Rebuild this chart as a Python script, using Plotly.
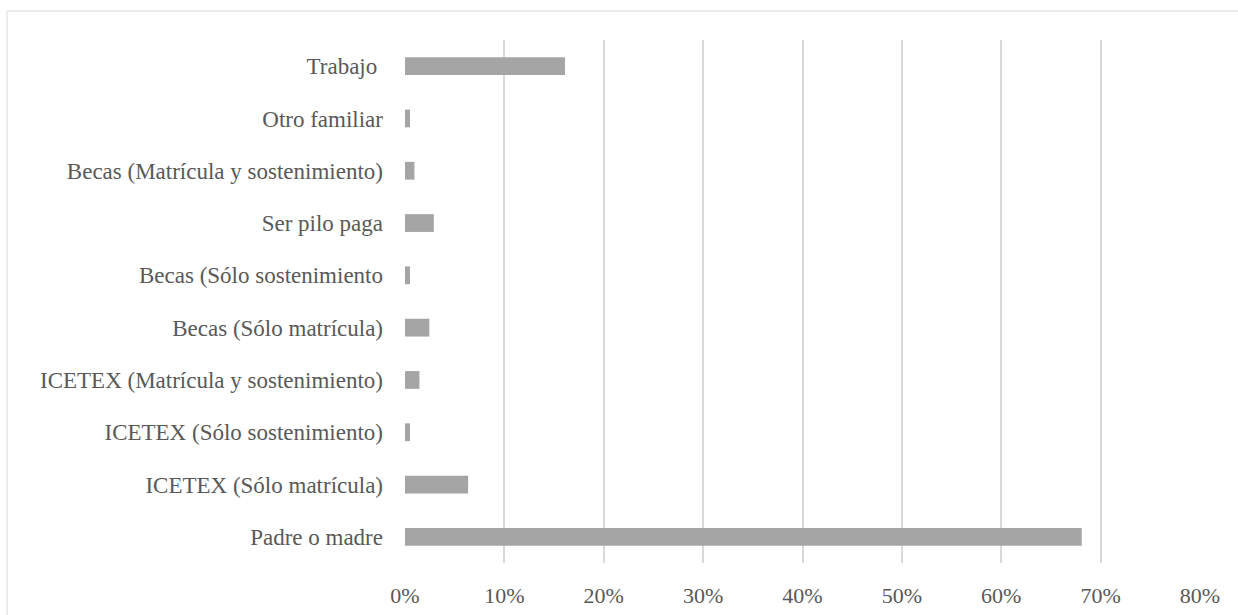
import plotly.graph_objects as go

# Fuentes de financiación (porcentaje de estudiantes)
categorias = [
    "Trabajo\u00a0",
    "Otro familiar",
    "Becas (Matrícula y sostenimiento)",
    "Ser pilo paga",
    "Becas (Sólo sostenimiento",
    "Becas (Sólo matrícula)",
    "ICETEX (Matrícula y sostenimiento)",
    "ICETEX (Sólo sostenimiento)",
    "ICETEX (Sólo matrícula)",
    "Padre o madre",
]
porcentajes = [16.1, 0.5, 0.95, 2.9, 0.5, 2.45, 1.45, 0.5, 6.35, 68.1]
ticks_x = [0, 10, 20, 30, 40, 50, 60, 70, 80]

W, H = 1238, 615
L, R, T, B = 405, 38, 40, 52
pw, ph = W - L - R, H - T - B

fig = go.Figure(
    go.Bar(
        x=porcentajes,
        y=categorias,
        orientation="h",
        marker=dict(color="#A5A5A5", line=dict(width=0)),
        width=0.34,
        hoverinfo="skip",
    )
)

font_y = dict(family="Liberation Serif", size=23, color="#595959")
font_x = dict(family="Liberation Serif", size=22, color="#595959")

fig.update_layout(
    width=W,
    height=H,
    margin=dict(l=L, r=R, t=T, b=B, pad=0, autoexpand=False),
    paper_bgcolor="white",
    plot_bgcolor="white",
    showlegend=False,
    font=font_y,
    xaxis=dict(
        range=[0, 80],
        tickvals=ticks_x,
        ticktext=[f"{v}%" for v in ticks_x],
        showgrid=True,
        gridcolor="#D9D9D9",
        gridwidth=1.5,
        zeroline=False,
        showline=False,
        ticks="",
        ticklabelstandoff=17,
        tickfont=font_x,
        automargin=False,
        fixedrange=True,
    ),
    yaxis=dict(
        autorange="reversed",
        showgrid=False,
        zeroline=False,
        showline=False,
        ticks="",
        ticklabelstandoff=21,
        tickfont=font_y,
        automargin=False,
        fixedrange=True,
    ),
    shapes=[
        dict(
            type="rect",
            xref="paper",
            yref="paper",
            x0=(7 - L) / pw,
            x1=(W + 5 - L) / pw,
            y0=-(H + 5 - (T + ph)) / ph,
            y1=1 + (T - 11) / ph,
            line=dict(color="#D9D9D9", width=1),
            fillcolor="rgba(0,0,0,0)",
            layer="below",
        )
    ],
)

fig.write_html("out.html")
